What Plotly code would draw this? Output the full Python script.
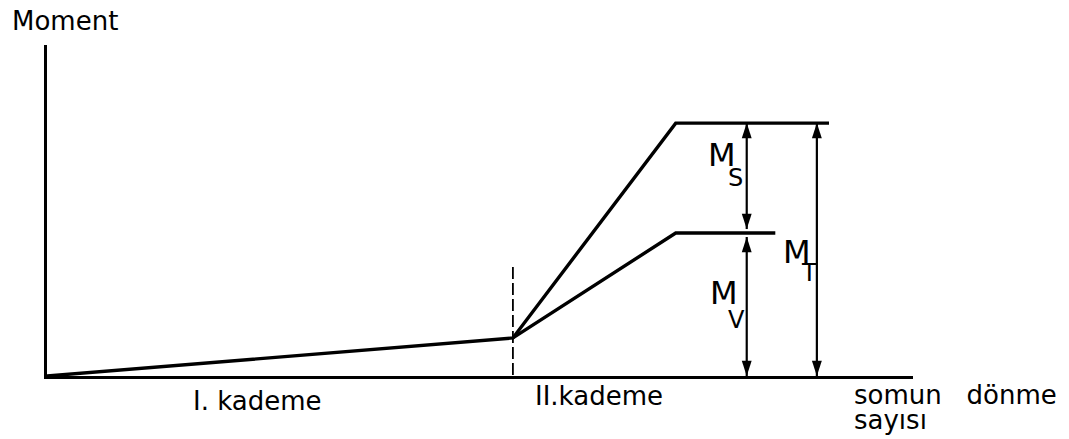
import plotly.graph_objects as go

W, H = 1069, 439

# ---- data (units: x = nut turns, y = moment; arbitrary scale 0..100) ----
stage_break_x = 53.8          # boundary between I. and II. kademe
knee_moment = 11.5            # moment at end of stage I
plateau_x = 72.6              # where lines reach plateau
upper_end_x = 90.3
mid_end_x = 84.1
M_T_level = 76.4              # total moment
M_V_level = 43.2              # moment level of lower curve
ms_mv_arrow_x = 80.8
mt_arrow_x = 88.9
dash_y = [32.9, -2.7]

upper_x = [0, stage_break_x, plateau_x, upper_end_x]
upper_y = [0, knee_moment, M_T_level, M_T_level]
lower_x = [stage_break_x, plateau_x, mid_end_x]
lower_y = [knee_moment, M_V_level, M_V_level]

axis_label_y = "Moment"
axis_label_x = ["somun&nbsp;&nbsp;&nbsp;dönme", "sayısı"]
stage_labels = ["I. kademe", "II.kademe"]

# ---- layout helpers ----
X0, X1 = 47, 913
Y0, Y1 = 376, 45


def px(x):
    return x / W


def py(y):
    return (H - y) / H


FONT = "DejaVu Sans"
fig = go.Figure()

line_style = dict(color="black", width=3.4)
fig.add_trace(go.Scatter(x=upper_x, y=upper_y, mode="lines", line=line_style,
                         hoverinfo="skip", showlegend=False))
fig.add_trace(go.Scatter(x=lower_x, y=lower_y, mode="lines", line=line_style,
                         hoverinfo="skip", showlegend=False))
fig.add_trace(go.Scatter(x=[stage_break_x, stage_break_x], y=dash_y, mode="lines",
                         line=dict(color="black", width=1.8, dash="12px,4px"),
                         hoverinfo="skip", showlegend=False, cliponaxis=False))

# dimension arrows (top, bottom) pairs
gap = 1.2
arrows = [
    (ms_mv_arrow_x, M_T_level, M_V_level + gap),
    (ms_mv_arrow_x, M_V_level - gap, 0),
    (mt_arrow_x, M_T_level, 0),
]
for xa, ytop, ybot in arrows:
    fig.add_trace(go.Scatter(x=[xa, xa], y=[ytop, ybot], mode="lines",
                             line=dict(color="black", width=2.2),
                             hoverinfo="skip", showlegend=False, cliponaxis=False))
    fig.add_trace(go.Scatter(x=[xa, xa], y=[ytop, ybot], mode="markers",
                             marker=dict(symbol="arrow", size=16, color="black",
                                         angle=[0, 180], line=dict(width=0)),
                             hoverinfo="skip", showlegend=False, cliponaxis=False))

texts = [
    (axis_label_y, 10, 21, "left", 26),
    (stage_labels[0], 257, 401, "center", 26),
    (stage_labels[1], 533, 396, "left", 26),
    (axis_label_x[0], 852, 395, "left", 26),
    (axis_label_x[1], 852, 420, "left", 26),
    ("M", 722, 155, "center", 32),
    ("S", 735, 178, "center", 24),
    ("M", 724, 293, "center", 32),
    ("V", 736, 320, "center", 24),
    ("M", 797, 252, "center", 32),
    ("T", 809, 273, "center", 24),
]
for t, x, y, anc, size in texts:
    fig.add_annotation(text=t, x=px(x), y=py(y), xref="paper", yref="paper",
                       xanchor=anc, yanchor="middle", showarrow=False,
                       font=dict(family=FONT, size=size, color="black"))

fig.update_layout(
    width=W, height=H,
    margin=dict(l=0, r=0, t=0, b=0),
    paper_bgcolor="white", plot_bgcolor="white",
    xaxis=dict(domain=[px(X0), px(X1)], range=[0, 100], showline=True,
               linecolor="black", linewidth=3, showgrid=False, zeroline=False,
               showticklabels=False, ticks="", fixedrange=True),
    yaxis=dict(domain=[py(Y0), py(Y1)], range=[0, 100], showline=True,
               linecolor="black", linewidth=3, showgrid=False, zeroline=False,
               showticklabels=False, ticks="", fixedrange=True),
)

fig.write_html("out.html", config={"displayModeBar": False},
               post_script="document.body.style.margin='0';document.body.style.overflow='hidden';")
